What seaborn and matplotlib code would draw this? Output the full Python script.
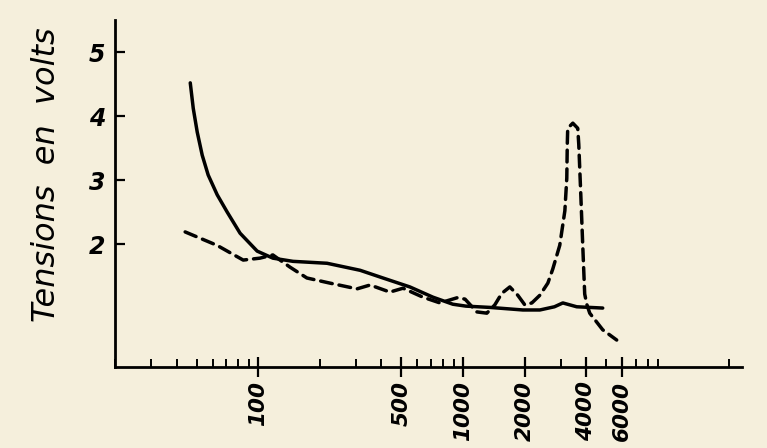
import matplotlib
matplotlib.use("Agg")
import matplotlib.pyplot as plt
import matplotlib.ticker as mticker
import pandas as pd
import seaborn as sns

# courbe en trait plein
freq_solid = [46.6, 48.2, 50.4, 53.3, 57.0, 63.1, 70.6, 81.6, 98.9, 118, 148,
              217, 315, 407, 551, 714, 893, 1035, 1355, 1963, 2376, 2800,
              3077, 3597, 4819]
volts_solid = [4.52, 4.12, 3.75, 3.39, 3.08, 2.77, 2.50, 2.17, 1.89, 1.78,
               1.73, 1.70, 1.59, 1.47, 1.33, 1.17, 1.06, 1.03, 1.01, 0.97,
               0.97, 1.02, 1.08, 1.02, 1.00]

# courbe en pointillés
freq_dash = [44, 63, 84.5, 102, 118, 143, 173, 224, 304, 352, 440, 510, 638,
             773, 935, 1024, 1169, 1309, 1432, 1549, 1695, 1854, 2006, 2172,
             2376, 2600, 2748, 2972, 3148, 3217, 3235, 3251, 3443, 3639,
             3681, 3765, 3847, 3935, 4027, 4165, 4819, 5640]
volts_dash = [2.19, 1.98, 1.75, 1.78, 1.83, 1.64, 1.47, 1.39, 1.30, 1.36,
              1.25, 1.31, 1.17, 1.08, 1.16, 1.14, 0.94, 0.92, 1.05, 1.23,
              1.33, 1.20, 1.05, 1.08, 1.20, 1.39, 1.61, 1.98, 2.52, 3.03,
              3.56, 3.81, 3.89, 3.81, 3.56, 2.78, 2.00, 1.22, 1.06, 0.92,
              0.66, 0.50]

x_major = [100, 500, 1000, 2000, 4000, 6000]
y_major = [2, 3, 4, 5]

df = pd.concat([
    pd.DataFrame({"freq": freq_solid, "volts": volts_solid, "courbe": "plein"}),
    pd.DataFrame({"freq": freq_dash, "volts": volts_dash, "courbe": "tirets"}),
])

paper = "#f5efdc"
sns.set_style("ticks", {"axes.facecolor": paper, "figure.facecolor": paper,
                        "text.color": "black", "xtick.color": "black",
                        "ytick.color": "black", "axes.labelcolor": "black"})

fig = plt.figure(figsize=(7.67, 4.48), dpi=100)
ax = fig.add_axes([0.150, 0.181, 0.817, 0.774])

sns.lineplot(data=df, x="freq", y="volts", style="courbe",
             dashes={"plein": "", "tirets": (3.4, 2.0)},
             color="black", linewidth=2.5, legend=False,
             estimator=None, errorbar=None, ax=ax,
             solid_capstyle="round", dash_capstyle="round",
             solid_joinstyle="round", dash_joinstyle="round")

ax.set_xscale("log")
ax.set_xlim(20, 23000)
ax.set_ylim(0.08, 5.5)

ax.xaxis.set_major_locator(mticker.FixedLocator(x_major))
ax.xaxis.set_major_formatter(mticker.FixedFormatter([str(v) for v in x_major]))
ax.xaxis.set_minor_locator(mticker.LogLocator(base=10, subs=range(2, 10)))
ax.xaxis.set_minor_formatter(mticker.NullFormatter())
ax.set_yticks(y_major)
ax.set_yticklabels([str(v) for v in y_major])

ax.tick_params(axis="x", which="major", direction="inout", length=14,
               width=1.6, pad=3, colors="black")
ax.tick_params(axis="x", which="minor", direction="in", length=6, width=1.4,
               colors="black")
ax.tick_params(axis="y", direction="in", length=7, width=1.6, pad=7,
               colors="black")

for lab in ax.get_xticklabels():
    lab.set_rotation(90)
    lab.set_fontsize(15.5)
    lab.set_fontweight("bold")
    lab.set_fontstyle("italic")
    lab.set_va("top")
for lab in ax.get_yticklabels():
    lab.set_fontsize(17)
    lab.set_fontweight("bold")
    lab.set_fontstyle("italic")

sns.despine(ax=ax)
for side in ("left", "bottom"):
    ax.spines[side].set_linewidth(2.0)
    ax.spines[side].set_color("black")

ax.set_xlabel("")
ax.set_ylabel("Tensions  en  volts", fontsize=23, fontstyle="italic",
              color="black")
ax.yaxis.set_label_coords(-0.085, 0.555)

fig.savefig("out.png", dpi=100, facecolor=paper)
